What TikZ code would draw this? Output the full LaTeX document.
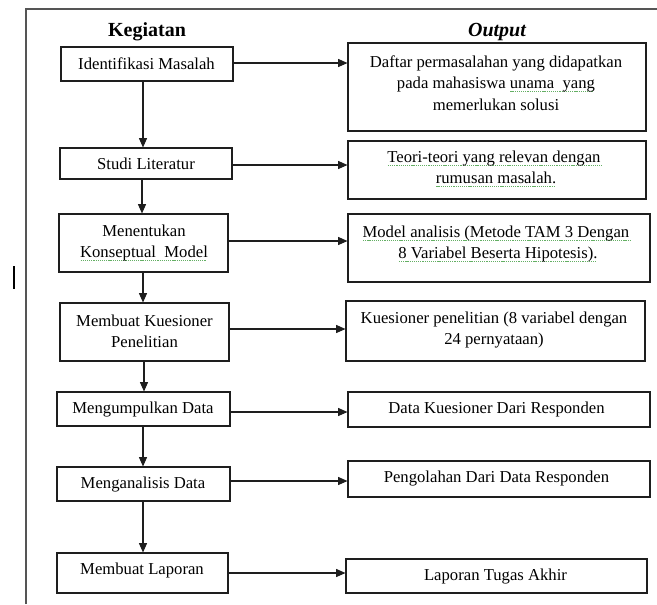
\documentclass[tikz,border=0pt]{standalone}
\usepackage{fontspec}
\setmainfont{Liberation Serif}
\usetikzlibrary{arrows.meta}
\definecolor{wavegreen}{RGB}{100,175,100}
\definecolor{framegray}{RGB}{85,85,85}
\definecolor{linecol}{RGB}{30,30,30}
\newsavebox\gwbox
\newcommand\gw[1]{\sbox\gwbox{#1}\rlap{\color{wavegreen}\raisebox{-2.6pt}{\hbox to \wd\gwbox{\leaders\hbox to 1.6pt{\hss\vrule width 0.9pt height 0.6pt\hss}\hfill}}}\usebox\gwbox}
\begin{document}
\begin{tikzpicture}[x=0.75pt,y=-0.75pt,
  bx/.style 2 args={draw=linecol, line width=0.8pt, inner sep=0pt,
    minimum width=#1*0.75pt, minimum height=#2*0.75pt},
  txt/.style={inner sep=0pt, align=center, text=black,
    font=\fontsize{12.5}{16}\selectfont},
  head/.style={inner sep=0pt, font=\fontsize{15}{18}\selectfont\bfseries},
  arr/.style={draw=linecol, line width=0.8pt, -{Triangle[length=7pt,width=6pt]}}]
\useasboundingbox (0,0) rectangle (657,604);
% frame
\draw[framegray, line width=1pt] (26,604) -- (26,9) -- (657,9);
\draw[black, line width=2pt] (14,266) -- (14,289);
% headings
\node[head] (hk) at (147,32) {Kegiatan};
\node[head, font=\fontsize{15}{18}\selectfont\bfseries\itshape] (ho) at (497,32) {Output};
% left boxes
\node[bx={172}{34}] (L1) at (147,64) {};
\node[bx={172}{31}] (L2) at (146,163.5) {};
\node[bx={169}{58}] (L3) at (143.5,243) {};
\node[bx={169}{58}] (L4) at (144.5,332) {};
\node[bx={173}{34}] (L5) at (143.5,409) {};
\node[bx={173}{34}] (L6) at (143.5,484) {};
\node[bx={171}{40}] (L7) at (142.5,573) {};
% right boxes
\node[bx={298}{88}] (R1) at (497,87) {};
\node[bx={298}{58}] (R2) at (497,170) {};
\node[bx={302}{68}] (R3) at (499,248) {};
\node[bx={299}{60}] (R4) at (495.5,331) {};
\node[bx={302}{35}] (R5) at (499,409.5) {};
\node[bx={302}{36}] (R6) at (499,479) {};
\node[bx={301}{34}] (R7) at (496.5,576) {};
% left texts
\node[txt] (tL1) at (146.5,64) {Identifikasi Masalah};
\node[txt] (tL2) at (146,164) {Studi Literatur};
\node[txt] (tL3) at (144,243) {Menentukan\\ \gw{Konseptual\ \ Model}};
\node[txt] (tL4) at (144.5,331) {Membuat Kuesioner\\ Penelitian};
\node[txt] (tL5) at (143,410) {Mengumpulkan Data};
\node[txt] (tL6) at (143,485) {Menganalisis Data};
\node[txt] (tL7) at (142,570) {Membuat Laporan};
% right texts
\node[txt] (tR1) at (496,83) {Daftar permasalahan yang didapatkan\\ pada mahasiswa \gw{unama\ \ yang}\\ memerlukan solusi};
\node[txt] (tR2) at (496,169) {\gw{Teori-teori yang relevan dengan\ }\\ \gw{rumusan masalah.}};
\node[txt] (tR3) at (498,244) {\gw{Model analisis (Metode TAM 3 Dengan\ }\\ \gw{8 Variabel Beserta Hipotesis).}};
\node[txt] (tR4) at (494,330) {Kuesioner penelitian (8 variabel dengan\\ 24 pernyataan)};
\node[txt] (tR5) at (496.5,409) {Data Kuesioner Dari Responden};
\node[txt] (tR6) at (496.5,479) {Pengolahan Dari Data Responden};
\node[txt] (tR7) at (495.5,577) {Laporan Tugas Akhir};
% vertical arrow lines
\coordinate (v1) at (143,0);
\coordinate (v2) at (142,0);
\coordinate (v3) at (143,0);
\coordinate (v4) at (144,0);
\coordinate (v5) at (143,0);
\coordinate (v6) at (143,0);
\draw[arr] (L1.south -| v1) -- (L2.north -| v1);
\draw[arr] (L2.south -| v2) -- (L3.north -| v2);
\draw[arr] (L3.south -| v3) -- (L4.north -| v3);
\draw[arr] (L4.south -| v4) -- (L5.north -| v4);
\draw[arr] (L5.south -| v5) -- (L6.north -| v5);
\draw[arr] (L6.south -| v6) -- (L7.north -| v6);
% horizontal arrows
\coordinate (h1) at (0,63);
\coordinate (h2) at (0,165);
\coordinate (h3) at (0,241);
\coordinate (h4) at (0,329);
\coordinate (h5) at (0,412);
\coordinate (h6) at (0,481);
\coordinate (h7) at (0,573);
\draw[arr] (L1.east |- h1) -- (R1.west |- h1);
\draw[arr] (L2.east |- h2) -- (R2.west |- h2);
\draw[arr] (L3.east |- h3) -- (R3.west |- h3);
\draw[arr] (L4.east |- h4) -- (R4.west |- h4);
\draw[arr] (L5.east |- h5) -- (R5.west |- h5);
\draw[arr] (L6.east |- h6) -- (R6.west |- h6);
\draw[arr] (L7.east |- h7) -- (R7.west |- h7);
\end{tikzpicture}
\end{document}
